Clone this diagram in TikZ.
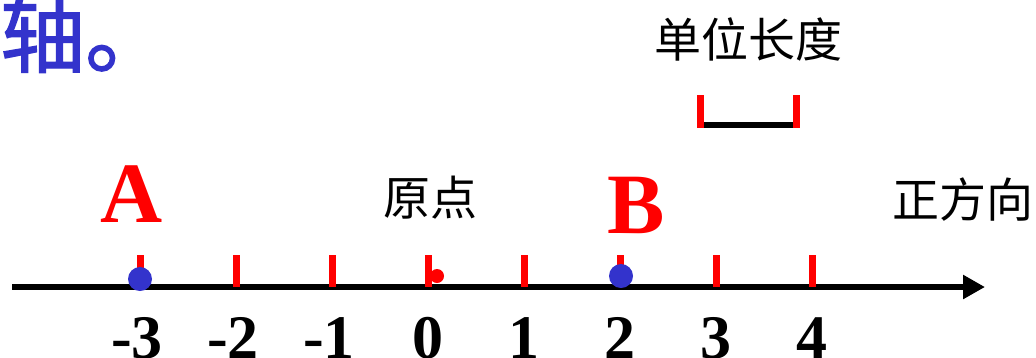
\documentclass[tikz,border=0pt]{standalone}
\usepackage{fontspec}
\setmainfont{Liberation Serif}
\newfontfamily\cjk{Noto Sans CJK SC}
\newfontfamily\cjkm[FakeBold=1.6]{Noto Sans CJK SC}
\usetikzlibrary{arrows.meta}
\definecolor{myblue}{HTML}{3333CC}
\definecolor{myred}{HTML}{FF0000}
\tikzset{
  axisline/.style={line width=6.5pt,-{Triangle[length=22pt,width=23pt]}},
  tickmark/.style={myred,line width=7pt},
  ptdot/.style={fill=myblue,draw=none},
  numlbl/.style={inner sep=0pt,anchor=base,font=\fontsize{62}{62}\selectfont\bfseries},
  ptlbl/.style={inner sep=0pt,anchor=base,text=myred,font=\fontsize{86}{86}\selectfont\bfseries},
  cjklbl/.style={inner sep=0pt,anchor=base,font=\fontsize{47}{47}\selectfont\cjk},
}
\begin{document}
\begin{tikzpicture}[x=1pt,y=-1pt]
\useasboundingbox (0,0) rectangle (1036,357);
% title fragment
\node[inner sep=0pt,anchor=base west,text=myblue,font=\fontsize{85}{85}\selectfont\cjkm] (title) at (0,66) {轴。};
% unit length
\node[cjklbl] (unitlbl) at (748,57) {单位长度};
\coordinate (ua) at (700,125);
\coordinate (ub) at (796,125);
\coordinate (uat) at (700,95);
\coordinate (ubt) at (796,95);
\coordinate (uab) at (700,128);
\coordinate (ubb) at (796,128);
\draw[line width=6pt] (ua) -- (ub);
\draw[tickmark] (uat) -- (uab);
\draw[tickmark] (ubt) -- (ubb);
% origin dot
\node[circle,fill=myred,inner sep=0pt,minimum size=14pt] (odot) at (437,276) {};
% axis
\coordinate (axstart) at (12,287);
\coordinate (axend) at (985,287);
\draw[axisline] (axstart) -- (axend);
% ticks and numbers
\foreach \n in {-3,...,4}{
  \coordinate (t\n) at ({428+96*\n},287);
  \coordinate (tt\n) at ({428+96*\n},255);
  \draw[tickmark] (tt\n) -- (t\n);
}
\foreach \n in {-3,-2,-1}{
  \node[numlbl] (n\n) at ({428+96*\n-3},358) {\n};
}
\foreach \n in {0,...,4}{
  \node[numlbl] (n\n) at ({428+96*\n},358) {\n};
}
% points
\node[circle,ptdot,minimum size=24pt,inner sep=0pt] (pA) at (140,279) {};
\node[circle,ptdot,minimum size=24pt,inner sep=0pt] (pB) at (621,276) {};
\node[ptlbl] (lA) at (132,222) {A};
\node[ptlbl] (lB) at (636,233) {B};
\node[cjklbl] (origin) at (430,215) {原点};
\node[cjklbl] (posdir) at (963,217) {正方向};
\end{tikzpicture}
\end{document}
